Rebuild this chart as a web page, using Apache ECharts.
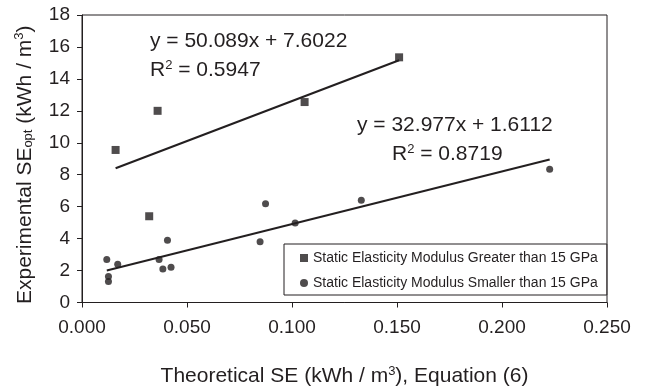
<!DOCTYPE html>
<html>
<head>
<meta charset="utf-8">
<script src="https://cdn.jsdelivr.net/npm/echarts@6/dist/echarts.min.js"></script>
<style>html,body{margin:0;padding:0;background:#fff;}#c{width:646px;height:392px;}</style>
</head>
<body>
<div id="c"></div>
<script>
// ---- data ----
var greaterX = [0.016, 0.036, 0.106, 0.151, 0.032];
var greaterY = [9.55, 12.0, 12.55, 15.35, 5.4];
var smallerX = [0.0118, 0.0170, 0.0126, 0.0126, 0.0367, 0.0407, 0.0385, 0.0424, 0.0848, 0.0874, 0.1015, 0.1330, 0.2227];
var smallerY = [2.70, 2.39, 1.63, 1.32, 2.70, 3.90, 2.10, 2.20, 3.80, 6.18, 4.98, 6.40, 8.35];
var trendSlope = [50.089, 32.977];
var trendIntercept = [7.6022, 1.6112];
var trendR2 = ['0.5947', '0.8719'];
var seriesNames = ['Static Elasticity Modulus Greater than 15 GPa', 'Static Elasticity Modulus Smaller than 15 GPa'];
var xTicks = [0, 0.05, 0.1, 0.15, 0.2, 0.25];
var yTicks = [0, 2, 4, 6, 8, 10, 12, 14, 16, 18];

function pairs(xs, ys) { return xs.map(function (x, i) { return [x, ys[i]]; }); }
function trend(xs, k) {
  var lo = Math.min.apply(null, xs), hi = Math.max.apply(null, xs);
  return [[lo, trendSlope[k] * lo + trendIntercept[k]], [hi, trendSlope[k] * hi + trendIntercept[k]]];
}

var FONT = 'Liberation Sans';
var INK = '#231f20';
var chart = echarts.init(document.getElementById('c'), null, { renderer: 'canvas' });

chart.setOption({
  animation: false,
  backgroundColor: '#fff',
  textStyle: { fontFamily: FONT, color: INK },
  grid: { left: 82, right: 39, top: 15, bottom: 87.5, show: true, borderColor: INK, borderWidth: 1, backgroundColor: 'transparent' },
  xAxis: {
    type: 'value', min: xTicks[0], max: xTicks[xTicks.length - 1], interval: 0.05,
    axisLine: { lineStyle: { color: INK, width: 1 } },
    axisTick: { show: true, inside: false, length: 5, lineStyle: { color: INK } },
    splitLine: { show: false },
    axisLabel: { color: INK, fontSize: 19, fontFamily: FONT, margin: 16, formatter: function (v) { return v.toFixed(3); } },
    name: 'Theoretical SE (kWh / m{sup|3}), Equation (6)',
    nameLocation: 'middle', nameGap: 62,
    nameTextStyle: {
      color: INK, fontSize: 21, fontFamily: FONT,
      rich: { sup: { fontSize: 13, fontFamily: FONT, color: INK, padding: [0, 0, 11, 0] } }
    }
  },
  yAxis: {
    type: 'value', min: yTicks[0], max: yTicks[yTicks.length - 1], interval: 2,
    axisLine: { show: true, lineStyle: { color: INK, width: 1 } },
    axisTick: { show: true, inside: false, length: 5, lineStyle: { color: INK } },
    splitLine: { show: false },
    axisLabel: { color: INK, fontSize: 19, fontFamily: FONT, margin: 12 },
    name: 'Experimental SE{sub|opt} (kWh / m{sup|3})',
    nameLocation: 'middle', nameGap: 45,
    nameTextStyle: {
      color: INK, fontSize: 21, fontFamily: FONT, padding: [0, 12, 0, 0],
      rich: {
        sub: { fontSize: 13, fontFamily: FONT, color: INK, padding: [0, 0, -7, 0] },
        sup: { fontSize: 13, fontFamily: FONT, color: INK, padding: [0, 0, 11, 0] }
      }
    }
  },
  legend: {
    orient: 'vertical', left: 284, top: 244,
    padding: [7, 9, 5, 16], itemGap: 11,
    itemWidth: 8, itemHeight: 8,
    borderColor: INK, borderWidth: 1, backgroundColor: '#fff',
    textStyle: { fontSize: 14, fontFamily: FONT, color: INK },
    data: [
      { name: seriesNames[0], icon: 'rect' },
      { name: seriesNames[1], icon: 'circle' }
    ]
  },
  series: [
    { name: seriesNames[0], type: 'scatter', symbol: 'rect', symbolSize: 8, itemStyle: { color: INK }, data: pairs(greaterX, greaterY), z: 5 },
    { name: seriesNames[1], type: 'scatter', symbol: 'circle', symbolSize: 7, itemStyle: { color: INK }, data: pairs(smallerX, smallerY), z: 5 },
    { name: 'trend1', type: 'line', showSymbol: false, symbol: 'none', lineStyle: { color: INK, width: 2 }, data: trend(greaterX, 0), z: 3 },
    { name: 'trend2', type: 'line', showSymbol: false, symbol: 'none', lineStyle: { color: INK, width: 2 }, data: trend(smallerX, 1), z: 3 }
  ],
  graphic: [
    { type: 'text', left: 150, top: 31, style: { text: 'y = ' + trendSlope[0] + 'x + ' + trendIntercept[0], font: '21px "Liberation Sans"', fill: INK } },
    { type: 'text', left: 150, top: 59, style: { text: 'R{sup|2} = ' + trendR2[0], font: '21px "Liberation Sans"', fill: INK, rich: { sup: { fontSize: 13, fontFamily: FONT, fill: INK, padding: [0, 0, 10, 0] } } } },
    { type: 'text', left: 357, top: 115, style: { text: 'y = ' + trendSlope[1] + 'x + ' + trendIntercept[1], font: '21px "Liberation Sans"', fill: INK } },
    { type: 'text', left: 392, top: 143, style: { text: 'R{sup|2} = ' + trendR2[1], font: '21px "Liberation Sans"', fill: INK, rich: { sup: { fontSize: 13, fontFamily: FONT, fill: INK, padding: [0, 0, 10, 0] } } } }
  ]
});
</script>
</body>
</html>
